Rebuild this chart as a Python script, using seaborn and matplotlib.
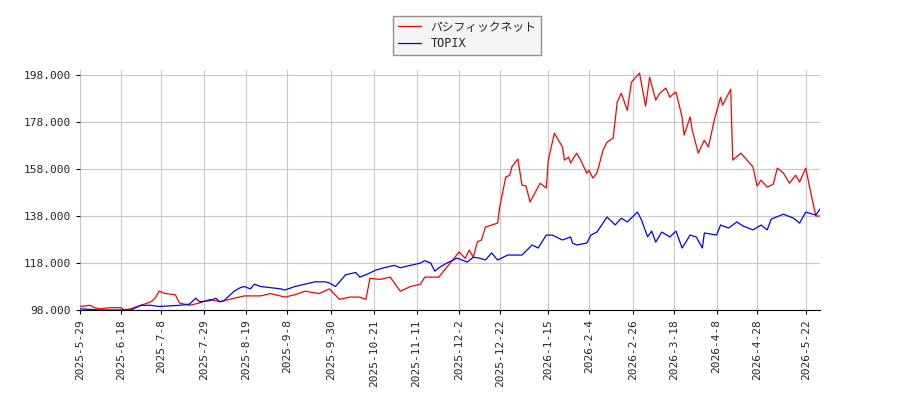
import matplotlib
matplotlib.use("Agg")
import matplotlib.pyplot as plt
import seaborn as sns
import pandas as pd

start = pd.Timestamp("2025-05-29")
red_days = [0,5,7,10,15,20,22,25,30,35,37,39,42,47,49,54,59,64,69,76,81,89,94,101,106,111,118,123,128,133,138,141,143,148,153,158,163,168,170,175,177,
            187,190,192,194,196,198,200,206,207,210,212,213,216,218,220,222,227,230,231,234,238,239,241,242,245,247,250,251,253,255,258,260,263,265,267,270,272,276,279,281,284,286,289,291,292,294,297,298,301,302,305,308,310,313,316,317,321,322,326,332,334,336,339,342,344,347,350,353,355,358,361,363,365]
red_vals = [99.5,100,99,98.5,99,99,98,98.5,100,101.5,103,106,105,104.5,101,100,101,102.5,101.5,103,104,104,105,103.5,104.5,106,105,107,102.5,103.5,103.5,102.5,111.5,111,112,106,108,109,112,112,112,
            122.7,120,123.5,120.5,127,127.8,133.3,135,141.8,154.6,155.4,158.9,162.3,151.2,150.8,144,152,149.9,161.8,173.3,167.4,161.8,163.1,160.6,164.8,161.8,156.2,157.6,154.2,156.3,166,169.5,171.2,186.5,190.3,183,195,198.9,184.8,197.1,187.4,190.3,192.5,188.6,189.5,190.8,180.2,172.5,180.2,174.6,164.8,170.3,167.4,179.3,188.6,185.2,192,161.8,164.8,158.9,150.8,153.3,150.3,151.6,158.4,156.3,152,155.4,152.5,158.4,146,138,138]

blue_days = [0,10,20,25,30,35,39,49,54,57,59,64,67,69,71,76,79,81,84,86,89,94,99,101,106,111,116,121,123,126,131,136,138,141,146,150,155,158,163,168,170,173,175,177,
             181,186,191,194,197,200,203,206,211,218,223,226,230,233,238,242,243,245,250,252,255,260,264,267,270,275,277,280,282,284,287,291,294,297,301,304,307,308,314,316,320,324,327,332,336,339,341,347,352,355,358,363,365]
blue_vals = [98.5,98,98,98,100,100,99.5,100,100.5,103,101.5,102,103,101.5,102,106,107.5,108,107,109,108,107.5,107,106.5,108,109,110,110,109.5,108,113,114,112,113,115,116,117,116,117,118,119,118,114.5,116,
             118,120.1,118.4,120.5,120.1,119.3,122.3,119.3,121.4,121.4,125.7,124.4,129.9,129.9,127.8,129.1,126.5,125.7,126.5,129.9,131.2,137.6,134.2,137.1,135.5,139.7,136.3,129.1,131.6,126.9,131.2,129.1,131.6,124.4,129.9,129.1,124.4,130.8,129.9,134.2,132.9,135.5,133.8,132.1,134.2,132.1,136.7,138.8,137.1,135,139.7,138.4,141]

red_label = "パシフィックネット"
blue_label = "TOPIX"
yticks = [98, 118, 138, 158, 178, 198]
xtick_labels = ["2025-5-29", "2025-6-18", "2025-7-8", "2025-7-29", "2025-8-19", "2025-9-8", "2025-9-30",
                "2025-10-21", "2025-11-11", "2025-12-2", "2025-12-22", "2026-1-15", "2026-2-4",
                "2026-2-26", "2026-3-18", "2026-4-8", "2026-4-28", "2026-5-22"]

df = pd.concat([
    pd.DataFrame({"date": start + pd.to_timedelta(red_days, unit="D"), "value": red_vals, "series": red_label}),
    pd.DataFrame({"date": start + pd.to_timedelta(blue_days, unit="D"), "value": blue_vals, "series": blue_label}),
])

sns.set_style("white")
plt.rcParams["font.family"] = ["DejaVu Sans Mono", "Noto Sans CJK JP"]

fig = plt.figure(figsize=(9, 4), dpi=100)
ax = fig.add_axes([0.089, 0.225, 0.822, 0.6])
sns.lineplot(data=df, x="date", y="value", hue="series", palette={red_label: "red", blue_label: "blue"},
             linewidth=0.9, ax=ax, legend=True)
ax.set_xlim(start, start + pd.Timedelta(days=365))
ax.set_ylim(98, 200.2)
ax.set_yticks(yticks)
ax.set_yticklabels([f"{v:.3f}" for v in yticks], fontsize=8)
xt = pd.to_datetime(xtick_labels)
ax.set_xticks(xt)
ax.set_xticklabels(xtick_labels, rotation=90, fontsize=8)
ax.grid(True, color="#c8c8c8", linewidth=0.8)
ax.set_xlabel("")
ax.set_ylabel("")
for s in ["top", "right", "left"]:
    ax.spines[s].set_visible(False)
ax.spines["bottom"].set_color("black")
ax.tick_params(axis="both", length=3, color="black", direction="out", left=True, bottom=True)
leg = ax.legend(loc="upper center", bbox_to_anchor=(0.523, 1.25), frameon=True, fancybox=False,
                facecolor="#f2f2f2", edgecolor="#777777", fontsize=8.5, handlelength=2,
                borderpad=0.4, labelspacing=0.3)
leg.get_frame().set_linewidth(1)
fig.savefig("out.png", dpi=100)
